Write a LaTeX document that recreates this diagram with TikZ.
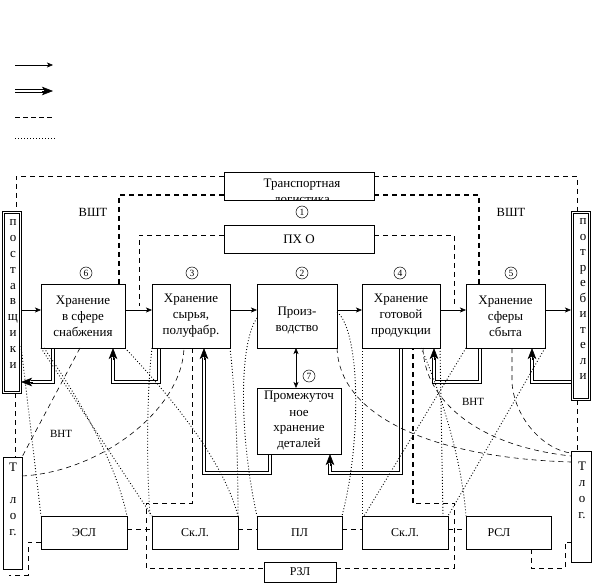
\documentclass[tikz,border=0pt]{standalone}
\usepackage{fontspec}
\setmainfont{Liberation Serif}
\usetikzlibrary{arrows.meta}
\begin{document}
\begin{tikzpicture}[x=1pt,y=-1pt,
  every node/.style={inner sep=0pt,outer sep=0pt},
  txt/.style={font=\fontsize{13}{16}\selectfont,align=center},
  box/.style={draw,line width=0.6pt,txt},
  frame/.style={draw,line width=0.6pt},
  sbox/.style={draw,line width=0.6pt,font=\fontsize{12}{14}\selectfont,minimum height=33pt},
  num/.style={draw,circle,line width=0.5pt,minimum size=12pt,font=\fontsize{9.5}{10}\selectfont},
  lab/.style={font=\fontsize{12.5}{14}\selectfont},
  sarrow/.style={line width=0.6pt,-{Stealth[length=6pt,width=5pt,inset=1.5pt]}},
  darrowtip/.style={line width=0.6pt,-{Stealth[length=11pt,width=8.5pt,inset=2.5pt]}},
  dl/.style={line width=0.65pt,line join=miter},
  dsh/.style={line width=0.6pt,dash pattern=on 5pt off 4pt},
  dshb/.style={line width=1.2pt,dash pattern=on 5pt off 4pt},
  dot/.style={line width=0.9pt,dash pattern=on 0.9pt off 2.1pt},
]
\useasboundingbox (0,0) rectangle (598,583);

% legend
\coordinate (l1a) at (15,65); \coordinate (l1b) at (53,65);
\draw[sarrow] (l1a) -- (l1b);
\coordinate (l2a) at (15,91); \coordinate (l2b) at (53,91);
\draw[dl] (15,89.7) -- (44,89.7);
\draw[dl] (15,92.3) -- (44,92.3);
\draw[darrowtip] (42,91) -- (l2b);
\coordinate (l3a) at (15,117); \coordinate (l3b) at (53,117);
\draw[line width=0.6pt,dash pattern=on 4.5pt off 3.5pt] (l3a) -- (l3b);
\coordinate (l4a) at (15,138); \coordinate (l4b) at (55,138);
\draw[dot] (l4a) -- (l4b);

% top boxes
\node[box,minimum width=150pt,minimum height=28pt] (tlog) at (299,186) {};
\begin{scope}
\clip (224.3,172.3) rectangle (373.7,199.7);
\node[txt] (tlogtxt) at (302,191.5) {Транспортная\\логистика};
\end{scope}
\node[num] (n1) at (302,212) {1};
\node[box,minimum width=150pt,minimum height=28pt] (pho) at (299,239) {ПХ О};

% numbers
\node[num] (n6) at (86,273) {6};
\node[num] (n3) at (192,273) {3};
\node[num] (n2) at (302,273) {2};
\node[num] (n4) at (400,273) {4};
\node[num] (n5) at (511,273) {5};
\node[num] (n7) at (309,376) {7};

% main boxes
\node[box,minimum width=84pt,minimum height=64pt] (b6) at (83,316) {Хранение\\в сфере\\снабжения};
\node[box,minimum width=78pt,minimum height=64pt] (b3) at (191,316) {Хранение\\сырья,\\полуфабр.};
\node[box,minimum width=80pt,minimum height=64pt] (b2) at (297,316) {};
\node[txt] (b2txt) at (297,321) {Произ-\\водство};
\node[box,minimum width=78pt,minimum height=64pt] (b4) at (401,316) {Хранение\\готовой\\продукции};
\node[box,minimum width=79pt,minimum height=64pt] (b5) at (505.5,316) {Хранение\\сферы\\сбыта};
\node[box,minimum width=84pt,minimum height=66pt] (b7) at (299,421) {Промежуточ\\ное\\хранение\\деталей};

% suppliers / consumers (double frames)
\node[frame,minimum width=19pt,minimum height=182pt] (sup) at (11.5,302) {};
\node[frame,minimum width=14.6pt,minimum height=177.6pt] (supin) at (11.5,302) {};
\node[txt,font=\fontsize{13}{15.9}\selectfont] (suptxt) at (13,294) {п\\о\\с\\т\\а\\в\\щ\\и\\к\\и};
\node[frame,minimum width=19pt,minimum height=189pt] (cons) at (580.5,305.5) {};
\node[frame,minimum width=14.6pt,minimum height=184.6pt] (consin) at (580.5,305.5) {};
\node[txt,font=\fontsize{13}{15.5}\selectfont] (constxt) at (583,299.5) {п\\о\\т\\р\\е\\б\\и\\т\\е\\л\\и};

% transport logistics side boxes
\node[frame,minimum width=19pt,minimum height=112pt] (tll) at (12.5,513) {};
\node[txt] (tlltxt) at (13,499) {Т\\[16pt]л\\о\\г.};
\node[frame,minimum width=20pt,minimum height=111pt] (tlr) at (581,506.5) {};
\node[txt] (tlrtxt) at (582,490) {Т\\л\\о\\г.};

% bottom boxes
\node[sbox,minimum width=86pt] (esl) at (84,532.5) {ЭСЛ};
\node[sbox,minimum width=86pt] (skl1) at (195,532.5) {Ск.Л.};
\node[sbox,minimum width=85pt] (pl) at (299.5,532.5) {ПЛ};
\node[sbox,minimum width=86pt] (skl2) at (405,532.5) {Ск.Л.};
\node[sbox,minimum width=85pt] (rsl) at (508.5,532.5) {};
\node[font=\fontsize{12}{14}\selectfont] (rsltxt) at (499,532.5) {РСЛ};
\node[frame,minimum width=72pt,minimum height=20pt,font=\fontsize{12}{14}\selectfont] (rzl) at (300,572) {РЗЛ};

% labels
\node[lab] (vsh1) at (93,212) {ВШТ};
\node[lab] (vsh2) at (511,212) {ВШТ};
\node[font=\fontsize{11}{12}\selectfont] (vnt1) at (61,434) {ВНТ};
\node[font=\fontsize{11}{12}\selectfont] (vnt2) at (473,402) {ВНТ};

% single arrows
\draw[sarrow] (sup.east |- 0,310) -- (b6.west |- 0,310);
\draw[sarrow] (b6.east |- 0,310) -- (b3.west |- 0,310);
\draw[sarrow] (b3.east |- 0,310) -- (b2.west |- 0,310);
\draw[sarrow] (b2.east |- 0,310) -- (b4.west |- 0,310);
\draw[sarrow] (b4.east |- 0,310) -- (b5.west |- 0,310);
\draw[sarrow] (b5.east |- 0,310) -- (cons.west |- 0,310);
\draw[line width=0.6pt,{Stealth[length=6pt,width=5pt,inset=1.5pt]}-{Stealth[length=6pt,width=5pt,inset=1.5pt]}] (296,0 |- b2.south) -- (296,0 |- b7.north);

% dashed: external transport
\draw[dsh] (tlog.west |- 0,176) -- (16,176) -- (16,0 |- sup.north);
\draw[dsh] (tlog.east |- 0,176) -- (577,176) -- (577,0 |- cons.north);
\draw[dshb] (tlog.west |- 0,195) -- (119,195) -- (119,0 |- b6.north);
\draw[dshb] (tlog.east |- 0,195) -- (479,195) -- (479,0 |- b5.north);
\draw[dsh] (pho.west |- 0,235) -- (139,235) -- (139,306);
\draw[dsh] (pho.east |- 0,235) -- (454,235) -- (454,306);
\draw[dsh] (15,0 |- sup.south) -- (15,0 |- tll.north);
\draw[dsh] (577,0 |- cons.south) -- (577,0 |- tlr.north);

% dashed: internal transport
\draw[dsh] (80,0 |- b6.south) -- (tll.north east);
\draw[dsh] (tll.east |- 0,476) .. controls (100,472) and (182,410) .. (184,0 |- b3.south);
\draw[dsh] (192,0 |- b3.south) -- (192,503) -- (146,503) -- (146,568) -- (rzl.west |- 0,568);
\draw[dsh] (esl.east |- 0,529) -- (skl1.west |- 0,529);
\draw[dsh] (skl1.east |- 0,529) -- (pl.west |- 0,529);
\draw[dsh] (pl.east |- 0,529) -- (skl2.west |- 0,529);
\draw[dsh] (skl2.east |- 0,529) -- (rsl.west |- 0,529);
\coordinate (eslend) at (9,575);
\draw[dsh] (esl.west |- 0,542) -- (28,542) -- (28,575) -- (eslend);
\draw[dsh] (531,0 |- rsl.south) -- (531,568) -- (565,568) -- (565,542) -- (tlr.west |- 0,542);
\draw[dsh] (rzl.east |- 0,568) -- (454,568) -- (454,503) -- (413,503);
\draw[dshb] (413,503) -- (413,0 |- b4.south);
\draw[dsh] (512,0 |- b5.south) -- (512,383) .. controls (515,420) and (545,450) .. (tlr.west |- 0,453);
\draw[dsh] (423,0 |- b4.south) .. controls (424,395) and (470,445) .. (tlr.west |- 0,456);
\draw[dsh] (b2.south east) .. controls (340,420) and (440,458) .. (tlr.west |- 0,462);

% dotted: functional logistics links
\draw[dot] (sup.east |- 0,346) -- (esl.north west);
\draw[dot] (44,0 |- b6.south) .. controls (80,400) and (115,460) .. (esl.north east);
\draw[dot] (b6.south west) -- (skl1.north west);
\draw[dot] (b6.south east) .. controls (160,385) and (222,455) .. (skl1.north east);
\draw[dot] (b3.south west) .. controls (146,400) and (147,470) .. (150,0 |- skl1.north);
\draw[dot] (b3.south east) .. controls (236,400) and (238,460) .. (skl1.north east);
\draw[dot] (b2.west |- 0,318) .. controls (238,345) and (240,440) .. (pl.north west);
\draw[dot] (b2.east |- 0,312) .. controls (360,330) and (362,440) .. (pl.north east);
\draw[dot] (b4.south west) -- (skl2.north west);
\draw[dot] (421,0 |- b4.south) .. controls (440,390) and (462,460) .. (rsl.north west);
\draw[dot] (b4.south east) -- (443,0 |- skl2.north);
\draw[dot] (b5.south west) -- (364,0 |- skl2.north);
\draw[dot] (b5.south east) -- (skl2.north east);

% double arrows (material flows back), drawn as two parallel lines
% b6 -> suppliers
\draw[dl] (54.3,0 |- b6.south) -- (54.3,383.3) -- (31,383.3);
\draw[dl] (51.7,0 |- b6.south) -- (51.7,380.7) -- (31,380.7);
\draw[darrowtip] (33,382) -- (sup.east |- 0,382);
% b3 -> b6
\draw[dl] (160.3,0 |- b3.south) -- (160.3,383.3) -- (111.7,383.3) -- (111.7,358);
\draw[dl] (157.7,0 |- b3.south) -- (157.7,380.7) -- (114.3,380.7) -- (114.3,358);
\draw[darrowtip] (113,360) -- (113,0 |- b6.south);
% b7 -> b3
\draw[dl] (271.3,0 |- b7.south) -- (271.3,474.3) -- (202.7,474.3) -- (202.7,358);
\draw[dl] (268.7,0 |- b7.south) -- (268.7,471.7) -- (205.3,471.7) -- (205.3,358);
\draw[darrowtip] (204,360) -- (204,0 |- b3.south);
% b4 -> b7
\draw[dl] (402.3,0 |- b4.south) -- (402.3,474.3) -- (328.7,474.3) -- (328.7,464);
\draw[dl] (399.7,0 |- b4.south) -- (399.7,471.7) -- (331.3,471.7) -- (331.3,464);
\draw[darrowtip] (330,466) -- (330,0 |- b7.south);
% b5 -> b4
\draw[dl] (481.3,0 |- b5.south) -- (481.3,383.3) -- (432.7,383.3) -- (432.7,358);
\draw[dl] (478.7,0 |- b5.south) -- (478.7,380.7) -- (435.3,380.7) -- (435.3,358);
\draw[darrowtip] (434,360) -- (434,0 |- b4.south);
% consumers -> b5
\draw[dl] (cons.west |- 0,383.3) -- (530.7,383.3) -- (530.7,358);
\draw[dl] (cons.west |- 0,380.7) -- (533.3,380.7) -- (533.3,358);
\draw[darrowtip] (532,360) -- (532,0 |- b5.south);
\end{tikzpicture}
\end{document}
